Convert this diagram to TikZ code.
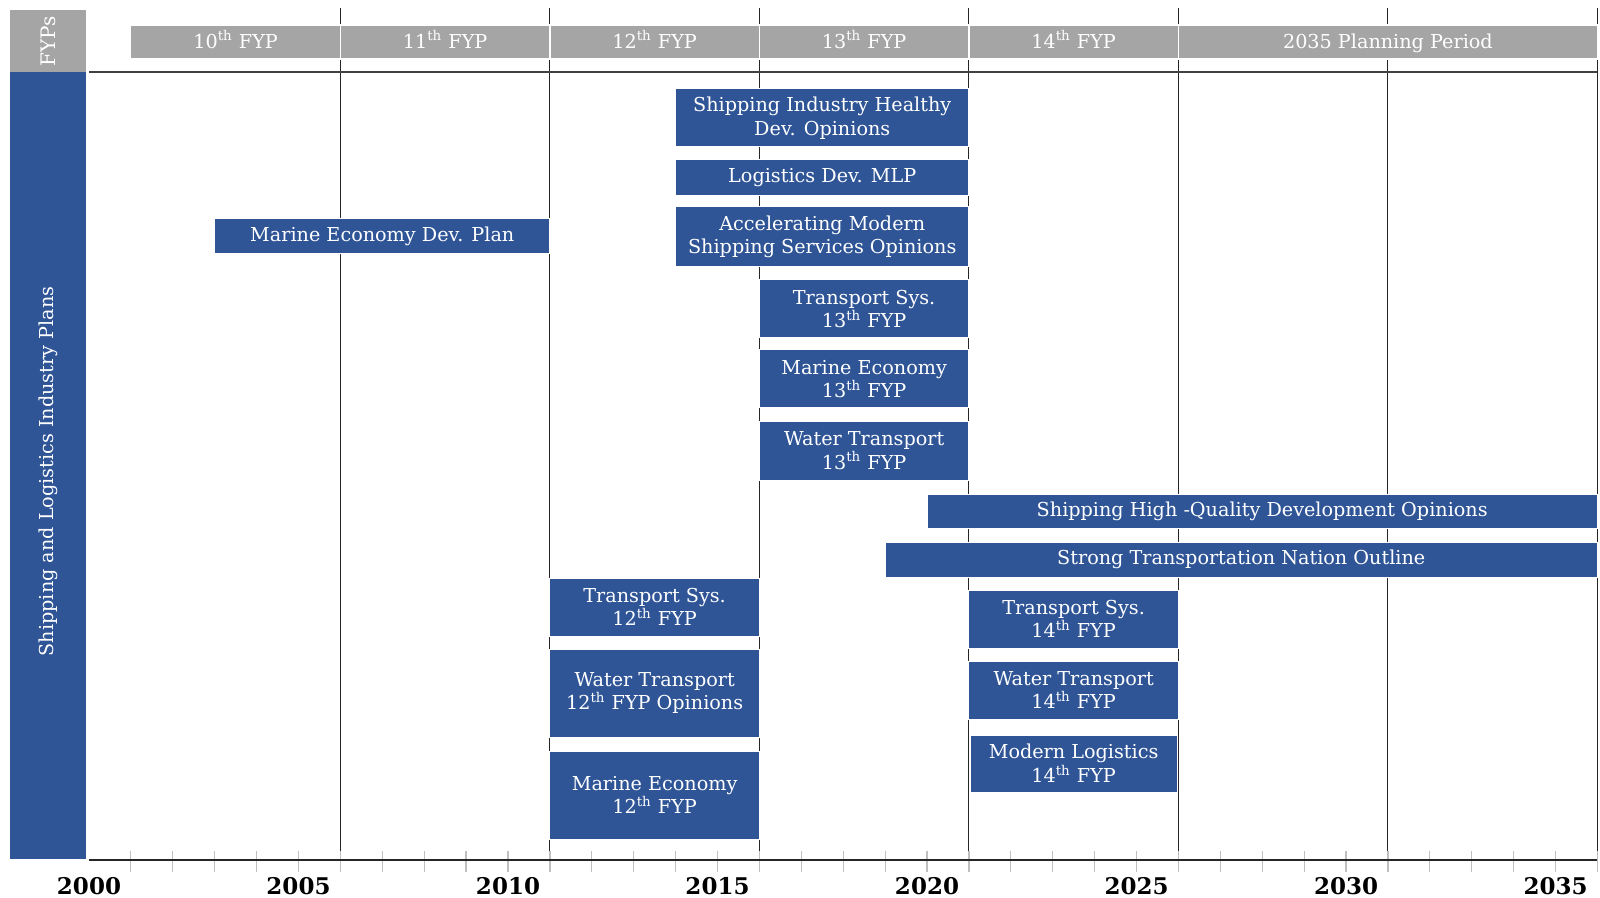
\documentclass[tikz,border=0pt]{standalone}
\usepackage{fontspec}
\setmainfont{DejaVu Serif}
\definecolor{planblue}{RGB}{47, 85, 151}
\definecolor{fypgray}{RGB}{165, 165, 165}
\usetikzlibrary{fit}
\usetikzlibrary{positioning}
\tikzset{
  plan/.style={fill=planblue, draw=white, line width=0.5pt, inner sep=0},
  plantext/.style={text=white, inner sep=0, align=center,
    font=\fontsize{9.6}{11.8}\selectfont},
  fyp/.style={fill=fypgray, draw=white, line width=0.6pt, inner sep=0},
  fyptext/.style={text=white, inner sep=0, text height=8.4pt, text depth=2.2pt,
    font=\fontsize{9.6}{11.8}\selectfont},
  gridline/.style={black!85, line width=0.5pt},
  tickline/.style={black!25, line width=0.6pt},
  yearlabel/.style={font=\fontsize{11.5}{12}\selectfont\bfseries, inner sep=0}
}

\begin{document}
\begin{tikzpicture}[x=20.95pt, y=-0.5pt]
  \useasboundingbox (-2.124,0) rectangle (36.062,898);

  % grid and axis
  \foreach \yy in {6,11,...,36}
    \draw [gridline] (\yy,8) -- (\yy,871);
  \foreach \t in {1,...,36}
    \draw [tickline] (\t,851) -- (\t,872);
  \draw [black!85, line width=1.3pt] (0,860) -- (36,860);
  \draw [black!75, line width=1pt] (0,72) -- (36,72);
  \foreach \yy in {0,5,...,35} {
    \pgfmathtruncatemacro\yearnum{2000+\yy}
    \node [yearlabel] (year\yearnum) at (\yy,886) {\yearnum};
  }

  % side bars
  \node [fill=fypgray, inner sep=0, fit={(-1.885,10) (-0.072,72)}] (fyps) {};
  \node [rotate=90, text=white, font=\fontsize{10}{12}\selectfont] at (fyps) {FYPs};
  \node [fill=planblue, inner sep=0, fit={(-1.885,72) (-0.072,859)}] (plans) {};
  \node [rotate=90, text=white, font=\fontsize{9.6}{12}\selectfont] at ([yshift=-3pt]plans.center) {Shipping and Logistics Industry Plans};

  % five-year plans
  \foreach \n [count=\i from 0] in {10,...,14}
    \node [fyp, fit={({1+5*\i},25) ({6+5*\i},59)},
      label={[fyptext]center:\n\textsuperscript{th} FYP}] (fyp\n) {};
  \node [fyp, fit={(26,25) (36,59)},
    label={[fyptext]center:2035 Planning Period}] (period2035) {};

  % plans
  \node [plan, fit={(14,89) (21,147)}, label={[plantext]center:Shipping Industry Healthy\\Dev. Opinions}] (healthy) {};
  \node [plan, fit={(14,160) (21,196)}, label={[plantext]center:Logistics Dev. MLP}] (logmlp) {};
  \node [plan, fit={(14,207) (21,267)}, label={[plantext]center:Accelerating Modern\\Shipping Services Opinions}] (modernship) {};
  \node [plan, fit={(3,219) (11,254)}, label={[plantext]center:Marine Economy Dev. Plan}] (marinedev) {};
  \node [plan, fit={(16,280) (21,338)}, label={[plantext]center:Transport Sys.\\13\textsuperscript{th} FYP}] (transport13) {};
  \node [plan, fit={(16,350) (21,408)}, label={[plantext]center:Marine Economy\\13\textsuperscript{th} FYP}] (marine13) {};
  \node [plan, fit={(16,421) (21,480)}, label={[plantext]center:Water Transport\\13\textsuperscript{th} FYP}] (water13) {};
  \node [plan, fit={(20,494) (36,528)}, label={[plantext]center:Shipping High -Quality Development Opinions}] (highquality) {};
  \node [plan, fit={(19,542) (36,577)}, label={[plantext]center:Strong Transportation Nation Outline}] (strongnation) {};
  \node [plan, fit={(11,578) (16,636)}, label={[plantext]center:Transport Sys.\\12\textsuperscript{th} FYP}] (transport12) {};
  \node [plan, fit={(11,649) (16,737)}, label={[plantext]center:Water Transport\\12\textsuperscript{th} FYP Opinions}] (water12) {};
  \node [plan, fit={(11,751) (16,839)}, label={[plantext]center:Marine Economy\\12\textsuperscript{th} FYP}] (marine12) {};
  \node [plan, fit={(21,590) (26,648)}, label={[plantext]center:Transport Sys.\\14\textsuperscript{th} FYP}] (transport14) {};
  \node [plan, fit={(21,661) (26,719)}, label={[plantext]center:Water Transport\\14\textsuperscript{th} FYP}] (water14) {};
  \node [plan, fit={(21.03,735) (25.97,792)}, label={[plantext]center:Modern Logistics\\14\textsuperscript{th} FYP}] (logistics14) {};
\end{tikzpicture}
\end{document}
